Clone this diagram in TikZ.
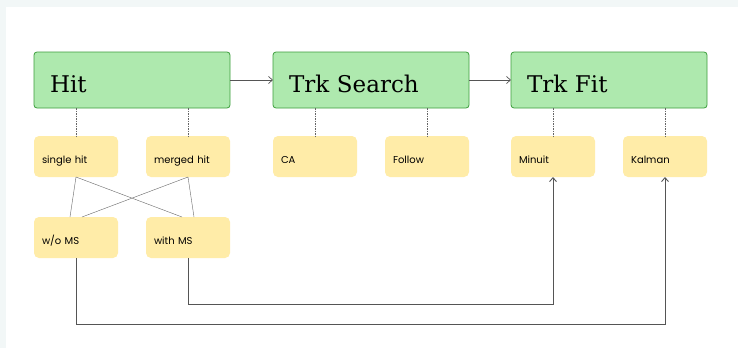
\documentclass[tikz,border=0pt]{standalone}
\usepackage{fontspec}
\setmainfont{DejaVu Serif}
\newfontfamily\subfont{Poppins}
\usetikzlibrary{positioning, calc, arrows.meta}
\definecolor{stagegreen}{HTML}{AEE9AE}
\definecolor{stageborder}{HTML}{3D9E3D}
\definecolor{subyellow}{HTML}{FFECA8}
\definecolor{pagetint}{HTML}{F2F7F7}
\definecolor{wiregray}{HTML}{555555}

\begin{document}
\begin{tikzpicture}[x=1pt,y=1pt,
        stage/.style={draw=stageborder, fill=stagegreen, rounded corners=3pt, line width=0.8pt,
                minimum height=56pt, text width=164pt, inner xsep=16pt, align=left, outer sep=0pt,
                text height=24pt, text depth=0pt, font=\fontsize{23}{23}\selectfont},
        sub/.style={fill=subyellow, rounded corners=5pt, minimum height=41pt, text width=68pt,
                inner xsep=8pt, align=left, outer sep=0pt, text height=13pt, text depth=0pt,
                font=\subfont\fontsize{10}{10}\selectfont},
        tip/.style={-{Straight Barb[length=4pt, width=7pt]}},
        tie/.style={draw=black!60, line width=0.4pt, dash pattern=on 1.5pt off 1pt},
        cross/.style={draw=black!60, line width=0.4pt},
        wire/.style={draw=wiregray, line width=0.9pt}]
        % page
        \fill[pagetint] (0,0) rectangle (738,-348);
        \fill[white] (6,-7) rectangle (738,-348);
        % stages
        \node[stage, anchor=north west] (hit) at (34,-52) {Hit};
        \node[stage, right=43pt of hit] (search) {Trk Search};
        \node[stage, right=42pt of search] (fit) {Trk Fit};
        \draw[tip, wiregray, line width=0.7pt] (hit) -- (search);
        \draw[tip, wiregray, line width=0.7pt] (search) -- (fit);
        % variants
        \node[sub, below=28pt of hit.south west, anchor=north west] (single) {single hit};
        \node[sub, below=28pt of hit.south east, anchor=north east] (merged) {merged hit};
        \node[sub, below=28pt of search.south west, anchor=north west] (ca) {CA};
        \node[sub, below=28pt of search.south east, anchor=north east] (follow) {Follow};
        \node[sub, below=28pt of fit.south west, anchor=north west] (minuit) {Minuit};
        \node[sub, below=28pt of fit.south east, anchor=north east] (kalman) {Kalman};
        \node[sub, below=40pt of single] (wo) {w/o MS};
        \node[sub, below=40pt of merged] (with) {with MS};
        \foreach \s/\v in {hit/single, hit/merged, search/ca, search/follow, fit/minuit, fit/kalman}
                \draw[tie] (\s.south -| \v.north) -- (\v.north);
        \draw[cross] (single.south) -- ([xshift=-6pt]wo.north)
                (single.south) -- ([xshift=-6pt]with.north)
                (merged.south) -- ([xshift=6pt]wo.north)
                (merged.south) -- ([xshift=6pt]with.north);
        \draw[wire, tip] (wo.south) -- ++(0,-66pt) -| (kalman.south);
        \draw[wire, tip] (with.south) -- ++(0,-46pt) -| (minuit.south);
\end{tikzpicture}
\end{document}
